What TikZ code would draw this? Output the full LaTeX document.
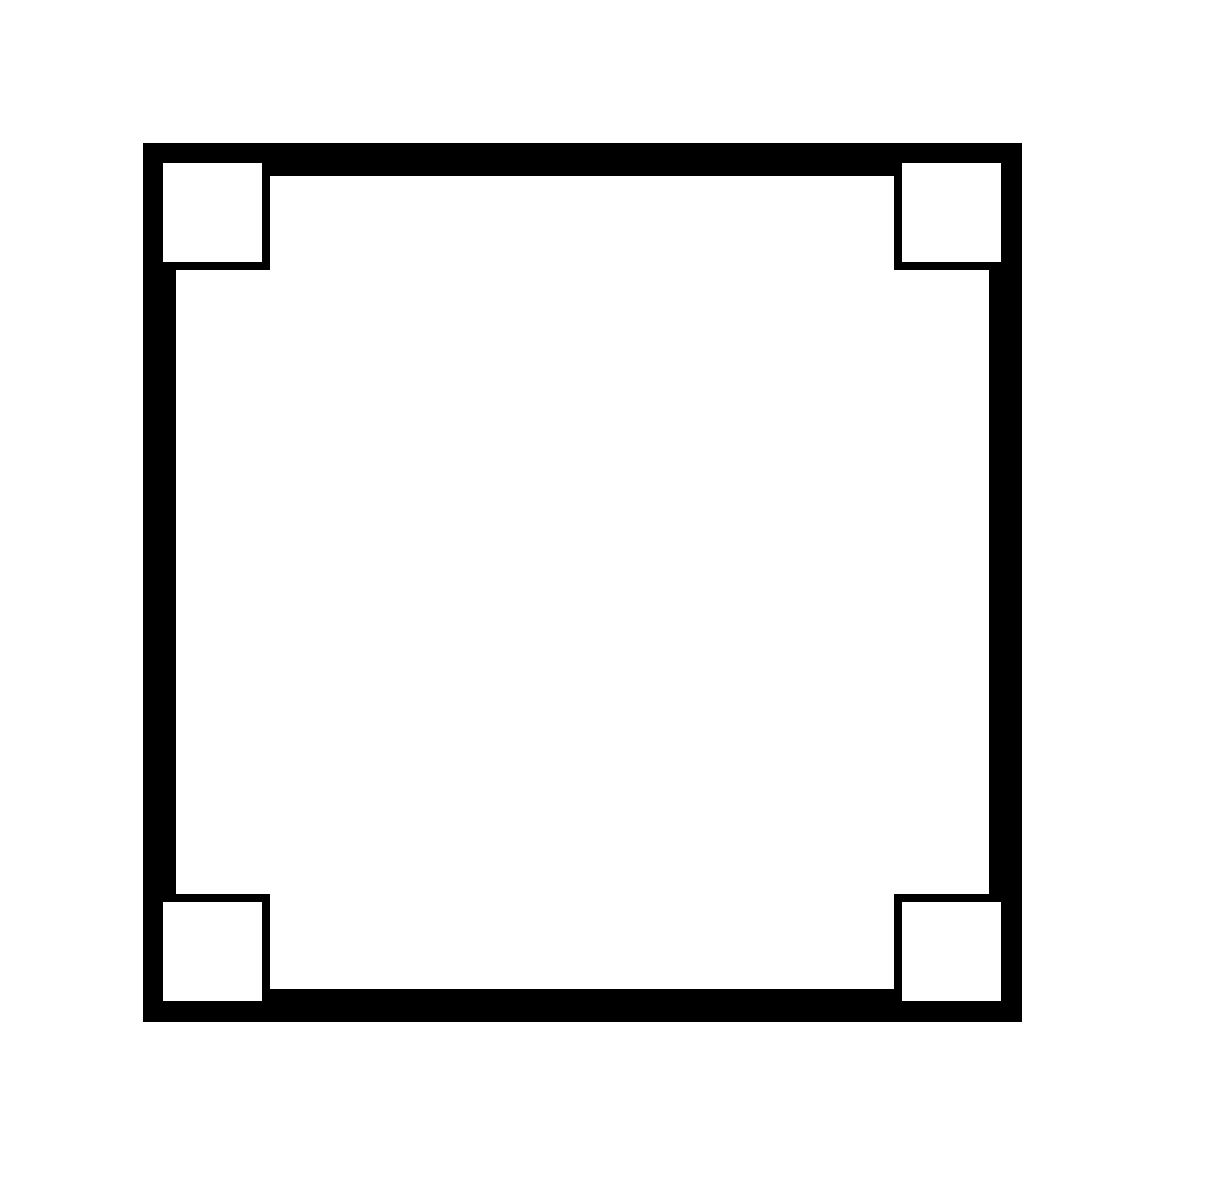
\documentclass[tikz,border=0pt]{standalone}
\begin{document}
\begin{tikzpicture}[x=1pt,y=-1pt,
  frame/.style={draw=black,line width=33pt,line join=miter},
  cornerbox/.style={draw=black,fill=white,line width=8pt,line join=miter}]
\useasboundingbox (0,0) rectangle (1211,1200);
\draw[frame] (159,159) rectangle (1005,1005);
\draw[cornerbox] (159,159) rectangle (266,266);
\draw[cornerbox] (898,159) rectangle (1005,266);
\draw[cornerbox] (159,898) rectangle (266,1005);
\draw[cornerbox] (898,898) rectangle (1005,1005);
\end{tikzpicture}
\end{document}
